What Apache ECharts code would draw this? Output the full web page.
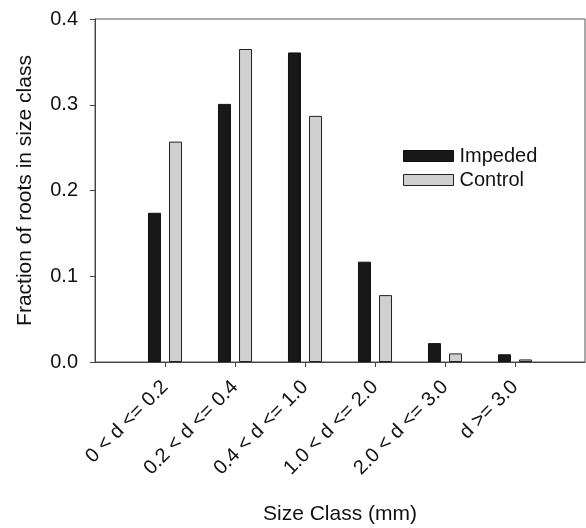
<!DOCTYPE html>
<html>
<head>
<meta charset="utf-8">
<script src="https://cdn.jsdelivr.net/npm/echarts@6/dist/echarts.min.js"></script>
<style>html,body{margin:0;padding:0;background:#fff;}#c{width:586px;height:528px;}</style>
</head>
<body>
<div id="c"></div>
<script>
const categories = ['0 < d <= 0.2', '0.2 < d <= 0.4', '0.4 < d <= 1.0', '1.0 < d <= 2.0', '2.0 < d <= 3.0', 'd >= 3.0'];
const impeded = [0.174, 0.301, 0.361, 0.117, 0.022, 0.009];
const control = [0.257, 0.365, 0.287, 0.078, 0.010, 0.003];
const yTicks = ['0.0', '0.1', '0.2', '0.3', '0.4'];

const font = 'Liberation Sans, Arial, sans-serif';
const cats = [''].concat(categories, ['']);
const pad = v => [null].concat(v, [null]);

const chart = echarts.init(document.getElementById('c'), null, {renderer: 'canvas'});
chart.setOption({
  animation: false,
  backgroundColor: '#fff',
  grid: {left: 95, right: 1, top: 19, bottom: 166, show: true, borderColor: '#555', borderWidth: 1,
         containLabel: false, outerBoundsMode: 'none'},
  legend: {
    left: 398, top: 141, orient: 'vertical', itemWidth: 50, itemHeight: 11, itemGap: 4,
    icon: 'rect',
    textStyle: {fontFamily: font, fontSize: 20, color: '#111', padding: [0, 0, 0, 1]},
    data: [
      {name: 'Impeded', itemStyle: {color: '#181818', borderColor: '#111', borderWidth: 1}},
      {name: 'Control', itemStyle: {color: '#d0d0d0', borderColor: '#222', borderWidth: 1}}
    ]
  },
  xAxis: {
    type: 'category', data: cats, boundaryGap: false,
    name: 'Size Class (mm)', nameLocation: 'middle', nameGap: 142,
    nameTextStyle: {fontFamily: font, fontSize: 21, color: '#111'},
    axisLine: {lineStyle: {color: '#444', width: 1}},
    axisTick: {show: true, length: 5, alignWithLabel: true, interval: (i) => i > 0 && i < cats.length - 1, lineStyle: {color: '#444'}},
    axisLabel: {rotate: 45, margin: 22, interval: 0, fontFamily: font, fontSize: 20, color: '#111'},
    splitLine: {show: false}
  },
  yAxis: {
    type: 'value', min: 0, max: 0.4, interval: 0.1,
    name: 'Fraction of roots in size class', nameLocation: 'middle', nameGap: 59,
    nameTextStyle: {fontFamily: font, fontSize: 21, color: '#111'},
    axisLine: {show: true, lineStyle: {color: '#444', width: 1}},
    axisTick: {show: true, length: 5, lineStyle: {color: '#444'}},
    axisLabel: {margin: 17, fontFamily: font, fontSize: 20, color: '#111', formatter: (v) => yTicks[Math.round(v * 10)]},
    splitLine: {show: false}
  },
  series: [
    {name: 'Impeded', type: 'bar', data: pad(impeded), barWidth: 13, barGap: '62%',
     itemStyle: {color: '#181818', borderColor: '#111', borderWidth: 1}},
    {name: 'Control', type: 'bar', data: pad(control), barWidth: 13,
     itemStyle: {color: '#d0d0d0', borderColor: '#222', borderWidth: 1}}
  ]
});
</script>
</body>
</html>
